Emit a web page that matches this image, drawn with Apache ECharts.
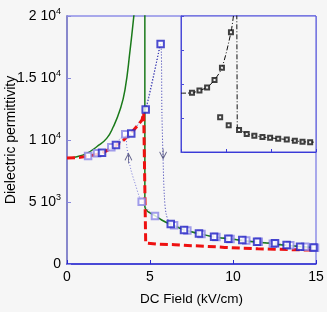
<!DOCTYPE html>
<html><head><meta charset="utf-8">
<script src="https://cdn.jsdelivr.net/npm/echarts@6/dist/echarts.min.js"></script>
<style>html,body{margin:0;padding:0;background:#f6f6f6}#c{width:327px;height:312px}</style>
</head><body><div id="c"></div>
<script>
// ---- data ----
const xTicks = [0, 5, 10, 15];
const yTickValues = [0, 5000, 10000, 15000, 20000];
const yTickMant = ['0', '5', '1', '1.5', '2'];
const yTickExp = ['', '3', '4', '4', '4'];

// green solid model curves
const greenX = [0, 0.6, 1.19, 1.79, 2.39, 2.79, 3.19, 3.49, 3.8, 4.02, 4.1];
const greenY = [8544, 8650, 8922, 9455, 10131, 11066, 12412, 14024, 17248, 19932, 21000];
const green2X = [4.69, 4.69, 4.85, 5.1, 5.3, 5.7, 6.2, 7.05, 8.0, 9.0, 10.0, 11.0, 12.0, 13.0, 14.0, 15.0];
const green2Y = [21000, 4600, 4250, 4050, 3900, 3550, 3224, 2760, 2430, 2160, 1990, 1820, 1690, 1530, 1410, 1314];

// red dashed curve
const redX = [0, 0.8, 1.3, 2.1, 2.9, 3.41, 4.02, 4.52, 4.62, 4.74, 5.5, 6.5, 7.5, 8.5, 9.5, 10.5, 11.5, 12.5, 13.5, 14.5, 15];
const redY = [8544, 8600, 8705, 8924, 9511, 9994, 10800, 11606, 12200, 1700, 1600, 1560, 1480, 1420, 1340, 1280, 1230, 1190, 1160, 1130, 1110];

// dark squares (increasing field)
const darkX = [2.11, 2.95, 3.87, 4.74, 5.64, 6.25, 7.05, 7.95, 8.86, 9.72, 10.56, 11.45, 12.53, 13.23, 14.04, 14.85];
const darkY = [8971, 9592, 10530, 12469, 17732, 3224, 2740, 2450, 2200, 2039, 1934, 1790, 1668, 1531, 1394, 1330];
// light squares (decreasing field)
const lightX = [1.27, 1.81, 2.67, 3.51, 4.50, 5.30, 6.45, 7.25, 8.10, 9.00, 9.85, 10.80, 11.55, 12.40, 13.45, 14.35, 14.94];
const lightY = [8705, 8922, 9406, 10454, 5022, 3870, 3119, 2700, 2418, 2180, 2020, 1900, 1800, 1640, 1510, 1390, 1314];

// dotted guide paths of the jumps
const dropX = [5.64, 5.72, 5.78, 5.86, 5.98, 6.25];
const dropY = [17732, 12000, 8800, 5600, 4000, 3224];
const riseX = [4.50, 4.1, 3.85, 3.7, 3.6, 3.51];
const riseY = [5022, 6500, 7600, 8624, 9500, 10454];
const arrowUp = [3.70, 8500];
const arrowDown = [5.79, 8900];

// inset (arbitrary units)
const insetCurveX = [0, 0.244, 0.41, 0.58, 0.745, 0.91, 1.11, 1.17];
const insetCurveY = [1.73, 1.74, 1.81, 1.90, 2.12, 2.48, 3.52, 4.05];
const insetDropX = [1.24, 1.25, 1.29, 1.46, 1.63, 1.81, 1.98, 2.16, 2.35, 2.53, 2.70, 2.87, 2.95];
const insetDropY = [4.05, 0.70, 0.65, 0.53, 0.48, 0.44, 0.42, 0.39, 0.37, 0.33, 0.30, 0.29, 0.29];
const insetIsoX = [0.87, 1.06];
const insetIsoY = [1.02, 0.79];

// ---- build ----
const zip = (xs, ys) => xs.map((x, i) => [x, ys[i]]);
const FONT = 'Liberation Sans, Arial, sans-serif';
const darkLine = zip(darkX.slice(0, 4), darkY.slice(0, 4)).concat(zip(dropX, dropY), zip(darkX.slice(6), darkY.slice(6)));
const lightLine = zip(lightX.slice(0, 3), lightY.slice(0, 3)).concat(zip(riseX.slice().reverse(), riseY.slice().reverse()), zip(lightX.slice(5), lightY.slice(5)));
const darkLine2 = zip(darkX.slice(3, 5), darkY.slice(3, 5));

const chart = echarts.init(document.getElementById('c'), null, {renderer: 'canvas'});
const sq = (name, data, color, xi, size) => ({
  type: 'scatter', name, data, xAxisIndex: xi, yAxisIndex: xi,
  symbol: 'emptyRect', symbolSize: size,
  itemStyle: {color: color, borderColor: color, borderWidth: 1}, z: 5, silent: true
});
chart.setOption({
  backgroundColor: '#f6f6f6',
  animation: false,
  grid: [
    {left: 67, top: 16, width: 249, height: 248, containLabel: false, outerBoundsMode: 'none', show: true, borderColor: '#5a5ae0', borderWidth: 1, backgroundColor: 'transparent'},
    {left: 181, top: 16, width: 135, height: 136, containLabel: false, outerBoundsMode: 'none', show: true, borderColor: '#4a4ad8', borderWidth: 1, backgroundColor: '#f6f6f6'}
  ],
  xAxis: [
    {type: 'value', gridIndex: 0, min: 0, max: 15, interval: 5,
     name: 'DC Field (kV/cm)', nameLocation: 'middle', nameGap: 28, nameMoveOverlap: false,
     nameTextStyle: {fontFamily: FONT, fontSize: 13.5, color: '#000'},
     axisLine: {lineStyle: {color: '#2a2ad0', width: 1.5}},
     axisTick: {inside: true, length: 4, lineStyle: {color: '#2a2ad0'}},
     axisLabel: {fontFamily: FONT, fontSize: 14, color: '#000', margin: 6},
     splitLine: {show: false}},
    {type: 'value', gridIndex: 1, min: 0, max: 3, interval: 1,
     axisLine: {lineStyle: {color: '#3a3ad8', width: 1}},
     axisTick: {inside: true, length: 3, lineStyle: {color: '#3a3ad8'}},
     axisLabel: {show: false}, splitLine: {show: false}}
  ],
  yAxis: [
    {type: 'value', gridIndex: 0, min: 0, max: 20000, interval: 5000,
     name: 'Dielectric permittivity', nameLocation: 'middle', nameGap: 49, nameMoveOverlap: false,
     nameTextStyle: {fontFamily: FONT, fontSize: 14, color: '#000'},
     axisLine: {lineStyle: {color: '#8888cc', width: 2}},
     axisTick: {inside: true, length: 4, lineStyle: {color: '#8888dd'}},
     axisLabel: {margin: 6, formatter: (v) => {
        const i = yTickValues.indexOf(v);
        if (i < 0) return '';
        if (!yTickExp[i]) return '{b|' + yTickMant[i] + '}';
        return '{b|' + yTickMant[i] + ' 10}{s|' + yTickExp[i] + '}';
      },
      rich: {b: {fontFamily: FONT, fontSize: 14, color: '#000', lineHeight: 18},
             s: {fontFamily: FONT, fontSize: 9, color: '#000', verticalAlign: 'top', lineHeight: 9}}},
     splitLine: {show: false}},
    {type: 'value', gridIndex: 1, min: 0, max: 4, interval: 1,
     axisLine: {lineStyle: {color: '#4a4ad8', width: 1}},
     axisTick: {inside: true, length: 3, lineStyle: {color: '#4a4ad8'}},
     axisLabel: {show: false}, splitLine: {show: false}}
  ],
  series: [
    {type: 'line', data: zip(greenX, greenY), smooth: true, showSymbol: false, lineStyle: {color: '#1a7a1a', width: 1.5}, z: 3, silent: true},
    {type: 'line', data: zip(green2X, green2Y), smooth: 0.3, showSymbol: false, lineStyle: {color: '#1a7a1a', width: 1.5}, z: 3, silent: true},
    {type: 'line', data: zip(redX, redY), showSymbol: false, lineStyle: {color: '#ee1111', width: 3, type: [8, 4]}, z: 4, silent: true},
    {type: 'line', data: darkLine, smooth: 0.3, showSymbol: false, lineStyle: {color: '#3030b0', width: 1, type: [1, 2]}, z: 2, silent: true},
    {type: 'line', data: darkLine2, showSymbol: false, lineStyle: {color: '#3030b0', width: 1, type: [1, 2]}, z: 2, silent: true},
    {type: 'line', data: lightLine, smooth: 0.3, showSymbol: false, lineStyle: {color: '#7878d8', width: 1, type: [1, 2]}, z: 2, silent: true},
    sq('light', zip(lightX, lightY), '#8a84e6', 0, 6.5),
    sq('dark', zip(darkX, darkY), '#2020c4', 0, 6.5),
    {type: 'scatter', data: [arrowUp], symbol: 'path://M0,8 L4,0 L8,8 M4,0 L4,12', symbolSize: [7, 10],
     itemStyle: {color: 'transparent', borderColor: '#404070', borderWidth: 1}, z: 6, silent: true},
    {type: 'scatter', data: [arrowDown], symbol: 'path://M0,4 L4,12 L8,4 M4,0 L4,12', symbolSize: [7, 10],
     itemStyle: {color: 'transparent', borderColor: '#404070', borderWidth: 1}, z: 6, silent: true},
    // inset
    {type: 'line', xAxisIndex: 1, yAxisIndex: 1, data: zip(insetCurveX, insetCurveY), smooth: 0.3, showSymbol: false,
     lineStyle: {color: '#111', width: 1, type: [5, 2, 1, 2]}, silent: true},
    {type: 'line', xAxisIndex: 1, yAxisIndex: 1, data: zip(insetDropX, insetDropY), showSymbol: false,
     lineStyle: {color: '#111', width: 1, type: [5, 2, 1, 2]}, silent: true},
    sq('ic', zip(insetCurveX.slice(1, 7), insetCurveY.slice(1, 7)), '#111', 1, 4),
    sq('id', zip(insetDropX.slice(2, 12), insetDropY.slice(2, 12)), '#111', 1, 4),
    sq('ii', zip(insetIsoX, insetIsoY), '#111', 1, 4)
  ]
});
</script></body></html>
